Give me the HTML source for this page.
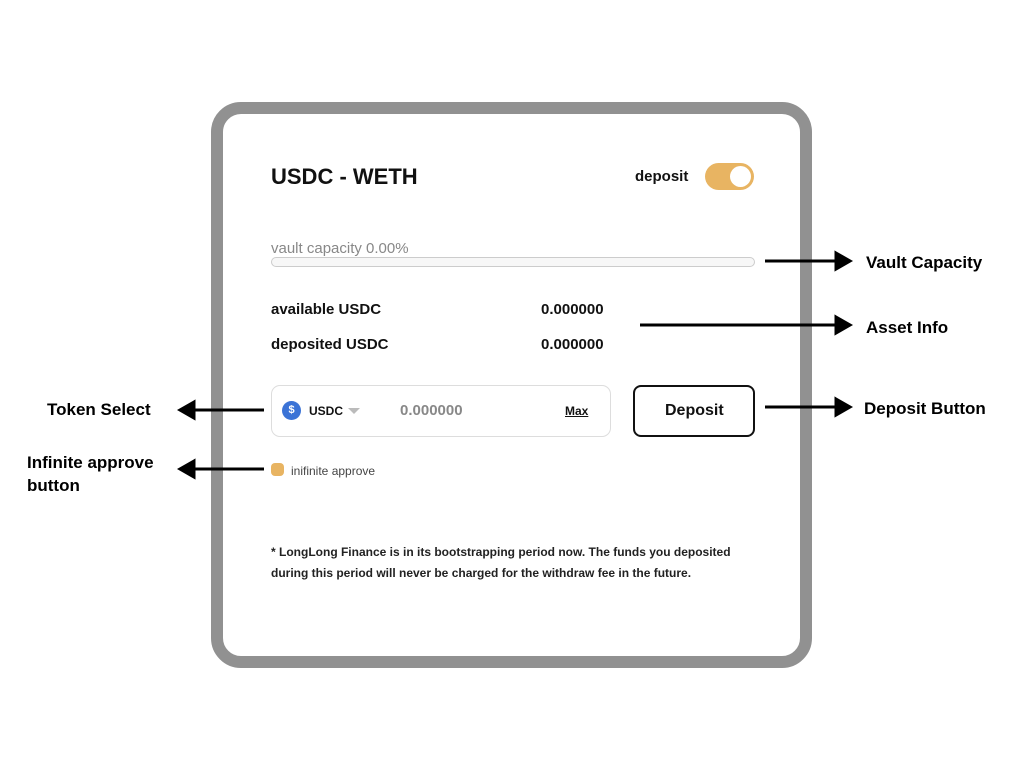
<!DOCTYPE html>
<html><head><meta charset="utf-8"><style>
body{margin:0;width:1024px;height:768px;background:#fff;position:relative;overflow:hidden;font-family:"Liberation Sans",sans-serif;}
.a{position:absolute;}
.frame{left:211px;top:102px;width:577px;height:542px;border:12px solid #919191;border-radius:30px;background:#fff;}
.t{position:absolute;white-space:nowrap;color:#111;}
.lbl{position:absolute;font-weight:bold;font-size:17px;color:#000;white-space:nowrap;}
</style></head><body>
<div class="a frame"></div>
<div class="t" style="left:271px;top:164px;font-size:22px;font-weight:bold;">USDC - WETH</div>
<div class="t" style="left:635px;top:168px;font-size:15px;font-weight:bold;">deposit</div>
<div class="a" style="left:705px;top:163px;width:49px;height:27px;border-radius:14px;background:#e8b462;"></div>
<div class="a" style="left:730px;top:166px;width:21px;height:21px;border-radius:50%;background:#fff;"></div>
<div class="t" style="left:271px;top:240px;font-size:15px;color:#888;">vault capacity 0.00%</div>
<div class="a" style="left:271px;top:257px;width:482px;height:8px;border:1px solid #ccc;border-radius:5px;background:#f7f7f7;"></div>
<div class="t" style="left:271px;top:301px;font-size:15px;font-weight:bold;">available USDC</div>
<div class="t" style="left:541px;top:301px;font-size:15px;font-weight:bold;">0.000000</div>
<div class="t" style="left:271px;top:336px;font-size:15px;font-weight:bold;">deposited USDC</div>
<div class="t" style="left:541px;top:336px;font-size:15px;font-weight:bold;">0.000000</div>
<div class="a" style="left:271px;top:385px;width:338px;height:50px;border:1px solid #ddd;border-radius:9px;"></div>
<div class="a" style="left:282px;top:401px;width:19px;height:19px;border-radius:50%;background:#3b73d6;color:#fff;font-size:11px;text-align:center;line-height:19px;font-weight:bold;">$</div>
<div class="t" style="left:309px;top:404px;font-size:12px;font-weight:bold;">USDC</div>
<div class="a" style="left:348px;top:408px;width:0;height:0;border-left:6px solid transparent;border-right:6px solid transparent;border-top:6px solid #bbb;"></div>
<div class="t" style="left:400px;top:402px;font-size:15px;color:#888;font-weight:bold;">0.000000</div>
<div class="t" style="left:565px;top:404px;font-size:12px;font-weight:bold;text-decoration:underline;">Max</div>
<div class="a" style="left:633px;top:385px;width:118px;height:48px;border:2px solid #111;border-radius:8px;"></div>
<div class="t" style="left:665px;top:402px;font-size:16px;font-weight:bold;">Deposit</div>
<div class="a" style="left:271px;top:463px;width:13px;height:13px;border-radius:4px;background:#e8b462;"></div>
<div class="t" style="left:291px;top:464px;font-size:12px;color:#444;">inifinite approve</div>
<div class="t" style="left:271px;top:542px;font-size:12px;font-weight:bold;line-height:21px;color:#222;">* LongLong Finance is in its bootstrapping period now. The funds you deposited<br>during this period will never be charged for the withdraw fee in the future.</div>
<svg class="a" style="left:0;top:0" width="1024" height="768">
<g stroke="#000" stroke-width="3" fill="#000">
<line x1="765" y1="261" x2="836" y2="261"/><polygon points="836,253 850,261 836,269"/>
<line x1="640" y1="325" x2="836" y2="325"/><polygon points="836,317 850,325 836,333"/>
<line x1="765" y1="407" x2="836" y2="407"/><polygon points="836,399 850,407 836,415"/>
<line x1="264" y1="410" x2="194" y2="410"/><polygon points="194,402 180,410 194,418"/>
<line x1="264" y1="469" x2="194" y2="469"/><polygon points="194,461 180,469 194,477"/>
</g></svg>
<div class="lbl" style="left:866px;top:253px;">Vault Capacity</div>
<div class="lbl" style="left:866px;top:318px;">Asset Info</div>
<div class="lbl" style="left:864px;top:399px;">Deposit Button</div>
<div class="lbl" style="left:47px;top:400px;">Token Select</div>
<div class="lbl" style="left:27px;top:451px;line-height:23px;">Infinite approve<br>button</div>
</body></html>
